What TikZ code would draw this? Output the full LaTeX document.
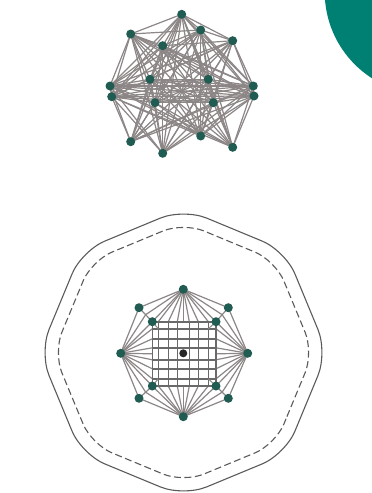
\documentclass[tikz,border=0pt]{standalone}
\usepackage{amsmath,amssymb,amsthm}
\usetikzlibrary{arrows.meta,calc}
\definecolor{tealcap}{RGB}{0,128,114}
\definecolor{nodeteal}{RGB}{32,92,82}
\definecolor{edgegrey}{RGB}{140,134,134}
\definecolor{gridgrey}{RGB}{105,105,105}
\definecolor{ringgrey}{RGB}{90,90,90}

\begin{document}
\begin{tikzpicture}[x=1pt, y=-1pt,
  dot/.style={circle, fill=nodeteal, minimum size=9pt, inner sep=0pt},
  darkdot/.style={circle, fill=black!85, minimum size=8pt, inner sep=0pt},
  edge/.style={edgegrey, line width=1.2pt},
  gridline/.style={gridgrey, line width=1.6pt}]
  \useasboundingbox (0,0) rectangle (372,493);
  \begin{scope}
    \clip (0,0) rectangle (372,493);
    \fill[tealcap] (427.4,-8.2) circle (102.7);
  \end{scope}
  % upper graph
  \foreach \i/\x/\y in {1/181.7/14.3, 2/130.7/34, 3/232.7/40.7, 4/200.7/30,
    5/162.7/45.7, 6/150/79.3, 7/208.3/79.3, 8/110/86, 9/111.7/96.7,
    10/253.3/86, 11/254/96, 12/155/102.7, 13/213.3/102.7, 14/130.7/141.7,
    15/200.7/136, 16/162.7/153.3, 17/232.7/147.3} {
    \coordinate (a\i) at (\x,\y);
  }
  \foreach \i in {1,4,5,...,13} {
    \foreach \j in {\i,...,17} {
      \ifnum\i<\j \draw[edge] (a\i)--(a\j); \fi
    }
  }
  \foreach \j in {4,5,...,13,15,16,17} {
    \draw[edge] (a2)--(a\j);
  }
  \foreach \j in {4,5,...,16} {
    \draw[edge] (a3)--(a\j);
  }
  \foreach \i in {1,...,17} {
    \node[dot] (u\i) at (a\i) {};
  }
  % lower graph
  \foreach \i/\x/\y in {1/183.3/289.3, 2/139/307.7, 3/228.3/307.7, 4/152.3/321.7,
    5/216/321.7, 6/120.7/353.3, 7/247.7/353.3, 8/152.3/386, 9/216/386,
    10/139/398.3, 11/228.3/398.3, 12/183.3/416.7, 13/183.3/353.3} {
    \coordinate (b\i) at (\x,\y);
  }
  % grid points on the sides of the inner square
  \foreach \k/\d in {1/-25, 2/-15, 3/-6, 4/0, 5/6, 6/15, 7/25} {
    \coordinate (t\k) at (183.3+\d,321.7);
    \coordinate (s\k) at (183.3+\d,386);
    \coordinate (l\k) at (152.3,353.8+\d);
    \coordinate (r\k) at (216,353.8+\d);
    \draw[edge] (b1)--(t\k);
    \draw[edge] (b12)--(s\k);
    \draw[edge] (b6)--(l\k);
    \draw[edge] (b7)--(r\k);
  }
  \foreach \k in {1,2,3,5,6,7} {
    \draw[gridline] (t\k)--(s\k);
    \draw[gridline] (l\k)--(r\k);
  }
  % outline and square
  \draw[edge] (b1)--(b2)--(b6)--(b10)--(b12)--(b11)--(b7)--(b3)--cycle;
  \draw[gridline] (b4)--(b5)--(b9)--(b8)--cycle;
  \foreach \p/\q in {2/4, 3/5, 10/8, 11/9, 1/4, 1/5, 6/4, 6/8, 7/5, 7/9, 12/8, 12/9} {
    \draw[edge] (b\p)--(b\q);
  }
  % second lines to the corner spokes
  \foreach \p/\q/\r in {1/2/4, 6/2/4, 1/3/5, 7/3/5, 6/10/8, 12/10/8, 7/11/9, 12/11/9} {
    \draw[edge] (b\p)--($(b\q)!0.5!(b\r)$);
  }
  % corner hatching
  \draw[edgegrey, line width=1pt] (b4)--(t1|-l1) (b5)--(t7|-l1) (b8)--(t1|-l7) (b9)--(t7|-l7);
  \foreach \i in {1,...,12} {
    \node[dot] (v\i) at (b\i) {};
  }
  \node[darkdot] (v13) at (b13) {};
  % outer rings
  \foreach \t in {0,45,...,315} {
    \coordinate (p\t) at ([shift={(\t:144)}]183.5,352.5);
    \coordinate (q\t) at ([shift={(\t:130)}]183.5,352.5);
  }
  \coordinate (pstart) at ($(p0)!0.5!(p45)$);
  \draw[ringgrey, line width=1.1pt, rounded corners=25pt]
    (pstart)--(p45)--(p90)--(p135)--(p180)--(p225)--(p270)--(p315)--(p0)--cycle;
  \coordinate (qstart) at ($(q0)!0.5!(q45)$);
  \draw[ringgrey, line width=1.1pt, dash pattern=on 7pt off 3.5pt, rounded corners=22pt]
    (qstart)--(q45)--(q90)--(q135)--(q180)--(q225)--(q270)--(q315)--(q0)--cycle;
\end{tikzpicture}
\end{document}
